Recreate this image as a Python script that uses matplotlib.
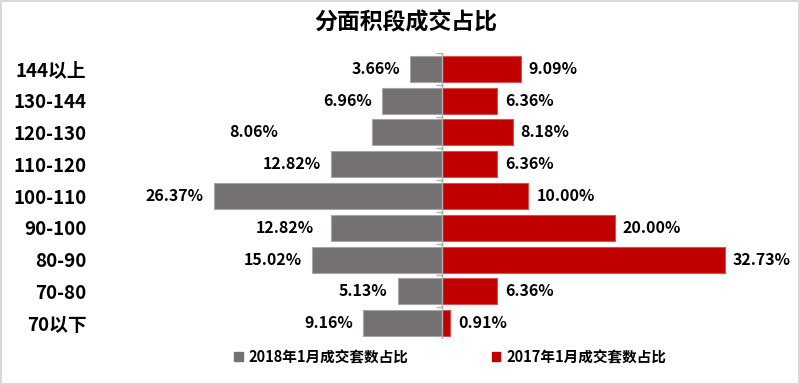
import matplotlib
matplotlib.use("Agg")
import matplotlib.pyplot as plt
from matplotlib.patches import Rectangle, Patch
import numpy as np

plt.rcParams['font.family'] = ['Noto Sans CJK SC', 'DejaVu Sans']

# 数据
categories = ["144以上", "130-144", "120-130", "110-120", "100-110", "90-100", "80-90", "70-80", "70以下"]
share_2018 = [3.66, 6.96, 8.06, 12.82, 26.37, 12.82, 15.02, 5.13, 9.16]
share_2017 = [9.09, 6.36, 8.18, 6.36, 10.00, 20.00, 32.73, 6.36, 0.91]
series_names = ["2018年1月成交套数占比", "2017年1月成交套数占比"]
title = "分面积段成交占比"

grey = "#767171"
red = "#C00000"

fig = plt.figure(figsize=(8, 3.85), dpi=100)
ax = fig.add_axes([92 / 800, 1 - 339 / 385, (770 - 92) / 800, (339 - 53) / 385])

y = np.arange(len(categories))
ax.barh(y, [-v for v in share_2018], height=0.82, color=grey, edgecolor="#a6a6a6", linewidth=0.8)
ax.barh(y, share_2017, height=0.82, color=red, edgecolor="#d85050", linewidth=0.8)

ax.set_xlim(-40.46, 37.92)
ax.set_ylim(len(categories) - 0.5, -0.5)

# 中轴线和分隔刻度
ax.axvline(0, color="#b0b0b0", lw=1, zorder=3)
ax.hlines(np.arange(-0.5, len(categories)), -0.7, 0.1, color="#b0b0b0", lw=1, zorder=3)

# 数据标签 (左侧个别标签 Excel 中被挪动过)
left_nudge = {2: -84, 5: -7}
for i, v in enumerate(share_2018):
    ax.annotate(f"{v:.2f}%", (-v, i), xytext=(-10 + left_nudge.get(i, 0), 0), textcoords="offset pixels",
                ha="right", va="center", fontsize=11.5, fontweight="bold", color="black")
for i, v in enumerate(share_2017):
    ax.annotate(f"{v:.2f}%", (v, i), xytext=(8, 0), textcoords="offset pixels",
                ha="left", va="center", fontsize=11.5, fontweight="bold", color="black")

ax.set_yticks(y)
ax.set_yticklabels(categories, fontsize=13.5, fontweight="bold")
ax.tick_params(axis="y", length=0, pad=4)
ax.set_xticks([])
for s in ax.spines.values():
    s.set_visible(False)

fig.text(406 / 800, 1 - 22 / 385, title, ha="center", va="center", fontsize=16.5, fontweight="bold")

handles = [Patch(color=grey), Patch(color=red)]
fig.legend(handles, series_names, loc="center", bbox_to_anchor=(450 / 800, 1 - 357 / 385), ncol=2,
           frameon=False, handlelength=0.6, handleheight=0.6, handletextpad=0.4, columnspacing=5.7,
           prop={"size": 10.5, "weight": "bold"})

# 外框
fig.patches.append(Rectangle((0.001, 0.002), 0.998, 0.996, transform=fig.transFigure, fill=False,
                             edgecolor="#d9d9d9", lw=1.5))

fig.savefig("out.png", dpi=100)
